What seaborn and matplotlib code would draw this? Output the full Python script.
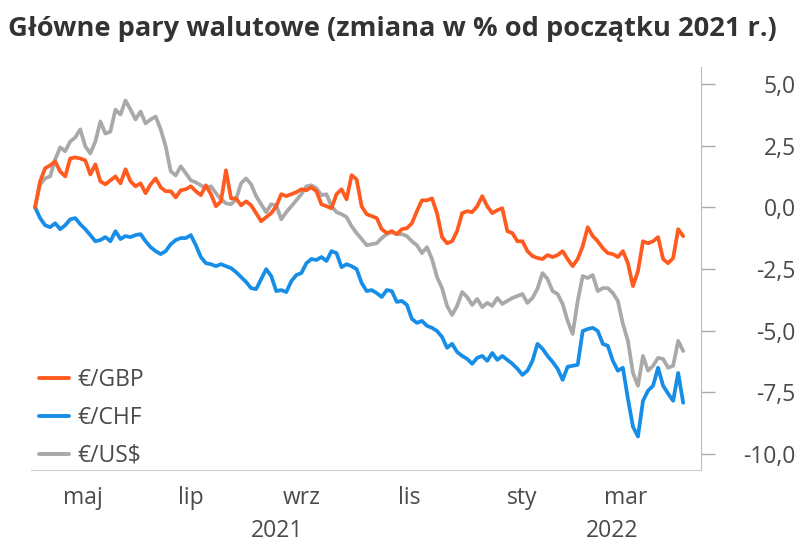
import pandas as pd
import matplotlib
matplotlib.use("Agg")
import matplotlib.pyplot as plt
from matplotlib.ticker import FuncFormatter
from matplotlib.transforms import blended_transform_factory
import seaborn as sns

# values, one point every 2 trading days
EUR_GBP = [
    0.0, 1.05, 1.58, 1.7, 1.86, 1.45, 1.25, 1.98, 2.02, 1.98,
    1.9, 1.33, 1.74, 1.05, 0.93, 1.09, 1.25, 0.97, 1.54, 1.05,
    0.85, 0.97, 0.57, 0.93, 1.17, 0.81, 0.65, 0.65, 0.4, 0.69,
    0.73, 0.85, 0.65, 0.49, 0.89, 0.53, 0.04, 0.24, 1.5, 0.36,
    0.36, 0.08, 0.24, 0.08, -0.24, -0.57, -0.4, -0.24, 0.04, 0.53,
    0.45, 0.53, 0.61, 0.73, 0.69, 0.81, 0.65, 0.12, 0.04, -0.04,
    0.53, 0.73, 0.32, 1.3, 1.13, 0.04, -0.28, -0.36, -0.44, -0.89,
    -1.05, -0.97, -1.09, -0.89, -0.85, -0.65, -0.16, 0.28, 0.28, 0.36,
    -0.24, -1.21, -1.46, -1.38, -0.97, -0.24, -0.16, -0.2, 0.04, 0.45,
    0.04, -0.24, -0.12, -0.04, -0.97, -1.05, -1.38, -1.38, -1.78, -1.98,
    -2.06, -2.1, -1.94, -2.02, -1.94, -1.78, -2.1, -2.39, -2.1, -1.58,
    -0.81, -1.17, -1.38, -1.66, -1.86, -1.9, -2.02, -1.78, -2.27, -3.2,
    -2.59, -1.38, -1.46, -1.38, -1.21, -2.1, -2.27, -2.06, -0.89, -1.17,
]
EUR_CHF = [
    0.0, -0.44, -0.73, -0.81, -0.65, -0.89, -0.73, -0.49, -0.44, -0.69,
    -0.89, -1.13, -1.38, -1.33, -1.21, -1.38, -0.97, -1.29, -1.17, -1.21,
    -1.13, -1.09, -1.38, -1.62, -1.78, -1.9, -1.78, -1.5, -1.33, -1.25,
    -1.25, -1.13, -1.54, -2.02, -2.27, -2.31, -2.39, -2.31, -2.39, -2.47,
    -2.63, -2.83, -3.03, -3.28, -3.32, -2.91, -2.51, -2.79, -3.4, -3.36,
    -3.44, -3.0, -2.75, -2.67, -2.27, -2.1, -2.14, -2.02, -2.18, -1.78,
    -1.86, -2.43, -2.31, -2.39, -2.51, -3.07, -3.4, -3.36, -3.48, -3.64,
    -3.36, -3.4, -3.84, -3.8, -3.96, -4.53, -4.69, -4.61, -4.81, -4.89,
    -5.02, -5.26, -5.7, -5.54, -5.87, -6.03, -6.15, -6.35, -6.11, -6.03,
    -6.23, -5.91, -6.19, -6.03, -6.19, -6.35, -6.55, -6.8, -6.63, -6.23,
    -5.54, -5.74, -6.03, -6.27, -6.55, -7.0, -6.47, -6.43, -6.39, -5.02,
    -4.94, -4.89, -5.02, -5.54, -5.62, -6.23, -6.63, -6.51, -7.77, -8.9,
    -9.3, -7.85, -7.44, -7.24, -6.51, -7.24, -7.56, -7.85, -6.72, -7.93,
]
EUR_USD = [
    0.0, 0.93, 1.17, 1.25, 1.94, 2.43, 2.27, 2.67, 2.83, 3.16,
    2.47, 2.18, 2.67, 3.48, 2.99, 3.07, 3.96, 3.76, 4.33, 3.96,
    3.56, 3.88, 3.4, 3.56, 3.68, 3.16, 2.47, 1.46, 1.29, 1.66,
    1.38, 1.09, 1.01, 0.89, 0.77, 0.85, 0.57, 0.32, 0.16, 0.12,
    0.32, 0.97, 1.17, 0.93, 0.45, 0.12, -0.2, 0.12, 0.08, -0.49,
    -0.2, 0.04, 0.28, 0.53, 0.85, 0.89, 0.77, 0.49, 0.53, 0.04,
    -0.2, -0.28, -0.4, -0.77, -1.05, -1.29, -1.54, -1.5, -1.46, -1.25,
    -1.09, -1.01, -1.09, -1.09, -1.17, -1.38, -1.54, -1.86, -1.62, -2.1,
    -2.83, -3.28, -4.0, -4.37, -4.0, -3.44, -3.64, -3.96, -3.72, -4.05,
    -3.88, -4.0, -3.68, -3.92, -3.8, -3.68, -3.6, -3.52, -3.88, -3.68,
    -3.3, -2.67, -2.91, -3.4, -3.52, -3.92, -4.61, -5.14, -3.8, -2.79,
    -2.87, -2.75, -3.4, -3.28, -3.28, -3.48, -3.8, -4.73, -5.42, -6.72,
    -7.24, -6.03, -6.63, -6.43, -6.11, -6.15, -6.51, -6.43, -5.42, -5.83,
]
PAIRS = ["€/GBP", "€/CHF", "€/US$"]
COLORS = ["#FF5A1F", "#168EE8", "#A9A9A9"]
MONTH_TICKS = ["2021-05", "2021-07", "2021-09", "2021-11", "2022-01", "2022-03"]
MONTH_LABELS = ["maj", "lip", "wrz", "lis", "sty", "mar"]
YEARS = ["2021", "2022"]

TXT = "#4A4A4A"

# trading-day axis
days = pd.bdate_range("2021-04-06", periods=259)
step = 2
df = pd.DataFrame({
    "pos": list(range(0, len(days), step)) * 3,
    "value": EUR_GBP + EUR_CHF + EUR_USD,
    "para": [p for p in PAIRS for _ in range(len(EUR_GBP))],
})

sns.set_style("white")
plt.rcParams["font.family"] = ["Open Sans", "DejaVu Sans"]

fig = plt.figure(figsize=(7.96, 5.56), dpi=100)
ax = fig.add_axes([0.039, 0.155, 0.842, 0.725])

sns.lineplot(data=df, x="pos", y="value", hue="para", hue_order=PAIRS,
             palette=COLORS, linewidth=2.7, ax=ax, legend=True)
for line, z in zip(ax.lines, [4, 3, 2]):
    line.set_zorder(z)
    line.set_solid_joinstyle("round")

ax.set_xlim(-1.6, 265.2)
ax.set_ylim(-10.65, 5.7)
ax.set_xlabel("")
ax.set_ylabel("")

# y axis on the right, comma decimals, labels right-aligned
ax.yaxis.tick_right()
ax.set_yticks([5, 2.5, 0, -2.5, -5, -7.5, -10])
ax.yaxis.set_major_formatter(FuncFormatter(lambda v, _: f"{v:.1f}".replace(".", ",")))
ax.tick_params(axis="y", direction="out", length=10, width=1, color="#AAAAAA",
               labelsize=16.5, labelcolor=TXT, pad=58)
for lab in ax.get_yticklabels():
    lab.set_horizontalalignment("right")

# month ticks at the first trading day of each month
tick_pos = [int(days.searchsorted(pd.Timestamp(m + "-01"))) for m in MONTH_TICKS]
ax.set_xticks(tick_pos)
ax.set_xticklabels(MONTH_LABELS)
ax.tick_params(axis="x", direction="out", length=4, width=1.5, color="#999999",
               labelsize=16.5, labelcolor=TXT, pad=8)

for side in ["left", "top"]:
    ax.spines[side].set_visible(False)
ax.spines["right"].set_color("#BBBBBB")
ax.spines["bottom"].set_color("#CCCCCC")
ax.grid(False)

# year labels centred under each year's span
jan = int(days.searchsorted(pd.Timestamp("2022-01-01")))
x0, x1 = ax.get_xlim()
tr = blended_transform_factory(ax.transData, ax.transAxes)
for yr, (a, b) in zip(YEARS, [(x0, jan), (jan, x1)]):
    ax.text((a + b) / 2, -0.152, yr, transform=tr, ha="center", va="center",
            fontsize=16.5, color=TXT)

handles, labels = ax.get_legend_handles_labels()
leg = ax.legend(handles, labels, loc="upper left", bbox_to_anchor=(0.012, 0.252),
                frameon=False, fontsize=16.5, handlelength=1.3, handletextpad=0.35,
                labelspacing=0.6, borderpad=0, borderaxespad=0)
for t in leg.get_texts():
    t.set_color(TXT)
for h in leg.legend_handles:
    h.set_linewidth(2.8)

fig.text(0.01, 0.972, "Główne pary walutowe (zmiana w % od początku 2021 r.)",
         ha="left", va="top", fontsize=19.6, fontweight="bold", color="#333333")

fig.savefig("out.png", dpi=100)
